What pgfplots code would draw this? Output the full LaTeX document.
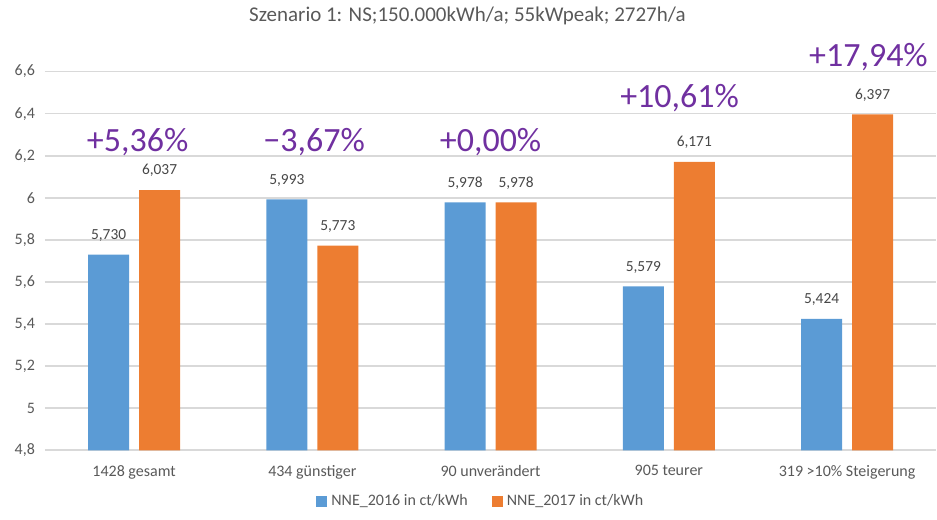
\documentclass[border=0pt]{standalone}
\usepackage{pgfplots}
\pgfplotsset{compat=1.18}
\usepackage{fontspec}
\setmainfont{Carlito}

\definecolor{nneblue}{HTML}{5B9BD5}
\definecolor{nneorange}{HTML}{ED7D31}
\definecolor{pctpurple}{HTML}{7030A0}
\definecolor{gridgray}{HTML}{D9D9D9}
\definecolor{textgray}{HTML}{595959}

\begin{document}
\begin{tikzpicture}
\begin{axis}[
    scale only axis,
    width=446pt, height=189.5pt,
    ybar=5pt,
    bar width=20.5pt,
    xmin=-0.5, xmax=4.5,
    ymin=4.8, ymax=6.6,
    xtick={0,1,2,3,4},
    xticklabels={1428 gesamt, 434 günstiger, 90 unverändert, 905 teurer, 319 >10\% Steigerung},
    ytick={4.8,5,5.2,5.4,5.6,5.8,6,6.2,6.4,6.6},
    /pgf/number format/assume math mode=true,
    /pgf/number format/use comma,
    yticklabel style={font=\fontsize{8}{10}\selectfont, text=textgray,
        /pgf/number format/fixed, xshift=-1.5pt},
    xticklabel style={font=\fontsize{8}{10}\selectfont, text=textgray, yshift=-4pt},
    major tick length=0pt,
    axis line style={draw=none},
    ymajorgrids=true,
    grid style={gridgray, line width=0.8pt},
    clip mode=individual,
    title={Szenario 1: NS;150.000kWh/a; 55kWpeak; 2727h/a},
    title style={at={(0.474,1)}, anchor=center, yshift=22pt,
        font=\fontsize{10.5}{12}\selectfont, text=textgray},
    nodes near coords,
    nodes near coords style={font=\fontsize{7.7}{9}\selectfont, text=textgray!80!black,
        /pgf/number format/fixed, /pgf/number format/fixed zerofill,
        /pgf/number format/precision=3, /pgf/number format/use comma,
        anchor=south, yshift=3pt},
    legend style={at={(0.49,-0.135)}, anchor=center, legend columns=2,
        draw=none, font=\fontsize{8}{10}\selectfont, text=textgray,
        /tikz/every even column/.append style={column sep=10pt}},
    legend image code/.code={\fill[#1] (0pt,-2.8pt) rectangle (5.6pt,2.8pt);},
]
\addplot[fill=nneblue, draw=none] coordinates {
    (0,5.730) (1,5.993) (2,5.978) (3,5.579) (4,5.424)
};
\addplot[fill=nneorange, draw=none] coordinates {
    (0,6.037) (1,5.773) (2,5.978) (3,6.171) (4,6.397)
};
\legend{NNE\_2016 in ct/kWh, NNE\_2017 in ct/kWh}

% percentage change labels above each group
\begin{scope}[every node/.style={font=\fontsize{17}{20}\selectfont, text=pctpurple}]
\node at (axis cs:0.02,6.263) {+5,36\%};
\node at (axis cs:1.01,6.263) {\char"2212 3,67\%};
\node at (axis cs:2.0,6.263) {+0,00\%};
\node at (axis cs:3.06,6.476) {+10,61\%};
\node at (axis cs:4.12,6.671) {+17,94\%};
\end{scope}
\end{axis}
\path[use as bounding box] (-22.5pt,-34.5pt) rectangle (446pt,220.5pt);
\end{tikzpicture}
\end{document}
